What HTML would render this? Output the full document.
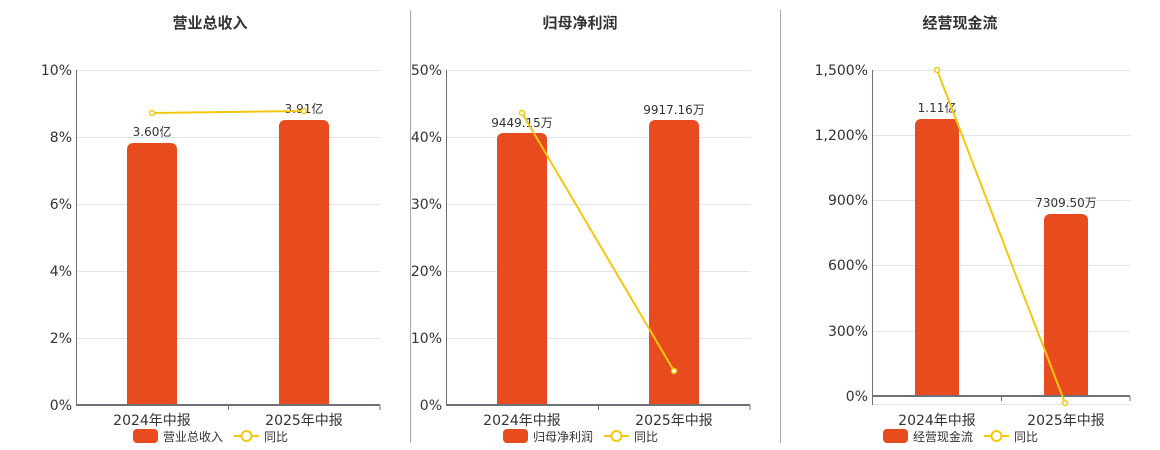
<!DOCTYPE html>
<html><head><meta charset="utf-8"><style>
html,body{margin:0;padding:0;background:#fff;}
svg{display:block;font-family:"DejaVu Sans","Noto Sans CJK SC",sans-serif;}
.t{font-size:15px;font-weight:bold;fill:#333;text-anchor:middle;}
.y{font-size:14px;fill:#333;text-anchor:end;}
.x{font-size:14px;fill:#333;text-anchor:middle;}
.v{font-size:12px;fill:#333;text-anchor:middle;}
.l{font-size:12px;fill:#333;}
</style></head><body>
<svg width="1160" height="450" viewBox="0 0 1160 450">
<line x1="410.5" y1="10" x2="410.5" y2="443" stroke="#aaa"/>
<line x1="780.5" y1="10" x2="780.5" y2="443" stroke="#aaa"/>

<!-- Chart 1 -->
<text class="t" x="210" y="28">营业总收入</text>
<g stroke="#e0e6f1">
<line x1="76" y1="70.5" x2="380" y2="70.5"/><line x1="76" y1="137.5" x2="380" y2="137.5"/>
<line x1="76" y1="204.5" x2="380" y2="204.5"/><line x1="76" y1="271.5" x2="380" y2="271.5"/>
<line x1="76" y1="338.5" x2="380" y2="338.5"/></g>
<g class="y"><text x="72" y="75">10%</text><text x="72" y="142">8%</text><text x="72" y="209">6%</text><text x="72" y="276">4%</text><text x="72" y="343">2%</text><text x="72" y="410">0%</text></g>
<path d="M127 405V149a6 6 0 0 1 6-6h38a6 6 0 0 1 6 6V405Z" fill="#e84c1e"/>
<path d="M279 405V126a6 6 0 0 1 6-6h38a6 6 0 0 1 6 6V405Z" fill="#e84c1e"/>
<line x1="76.5" y1="70" x2="76.5" y2="405" stroke="#6e7079"/>
<line x1="76" y1="405" x2="380" y2="405" stroke="#6e7079" stroke-width="2"/>
<line x1="228.5" y1="405" x2="228.5" y2="410" stroke="#6e7079"/><line x1="380" y1="405" x2="380" y2="410" stroke="#6e7079"/>
<text class="v" x="152" y="136">3.60亿</text><text class="v" x="304" y="113">3.91亿</text>
<polyline points="152,113 304,111" fill="none" stroke="#f2c80f" stroke-width="2"/>
<circle cx="152" cy="113" r="2.5" fill="#fff" stroke="#f2c80f" stroke-width="1.5"/><circle cx="304" cy="111" r="2.5" fill="#fff" stroke="#f2c80f" stroke-width="1.5"/>
<text class="x" x="152" y="425">2024年中报</text><text class="x" x="304" y="425">2025年中报</text>
<rect x="133" y="429" width="25" height="14" rx="4" fill="#e84c1e"/><text class="l" x="163" y="441">营业总收入</text>
<line x1="234" y1="436" x2="259" y2="436" stroke="#f2c80f" stroke-width="2"/><circle cx="246.5" cy="436" r="5" fill="#fff" stroke="#f2c80f" stroke-width="2"/><text class="l" x="264" y="441">同比</text>

<!-- Chart 2 -->
<text class="t" x="580" y="28">归母净利润</text>
<g stroke="#e0e6f1">
<line x1="446" y1="70.5" x2="750" y2="70.5"/><line x1="446" y1="137.5" x2="750" y2="137.5"/>
<line x1="446" y1="204.5" x2="750" y2="204.5"/><line x1="446" y1="271.5" x2="750" y2="271.5"/>
<line x1="446" y1="338.5" x2="750" y2="338.5"/></g>
<g class="y"><text x="442" y="75">50%</text><text x="442" y="142">40%</text><text x="442" y="209">30%</text><text x="442" y="276">20%</text><text x="442" y="343">10%</text><text x="442" y="410">0%</text></g>
<path d="M497 405V139a6 6 0 0 1 6-6h38a6 6 0 0 1 6 6V405Z" fill="#e84c1e"/>
<path d="M649 405V126a6 6 0 0 1 6-6h38a6 6 0 0 1 6 6V405Z" fill="#e84c1e"/>
<line x1="446.5" y1="70" x2="446.5" y2="405" stroke="#6e7079"/>
<line x1="446" y1="405" x2="750" y2="405" stroke="#6e7079" stroke-width="2"/>
<line x1="598.5" y1="405" x2="598.5" y2="410" stroke="#6e7079"/><line x1="750" y1="405" x2="750" y2="410" stroke="#6e7079"/>
<text class="v" x="522" y="127">9449.15万</text><text class="v" x="674" y="114">9917.16万</text>
<polyline points="522,113 674,371" fill="none" stroke="#f2c80f" stroke-width="2"/>
<circle cx="522" cy="113" r="2.5" fill="#fff" stroke="#f2c80f" stroke-width="1.5"/><circle cx="674" cy="371" r="2.5" fill="#fff" stroke="#f2c80f" stroke-width="1.5"/>
<text class="x" x="522" y="425">2024年中报</text><text class="x" x="674" y="425">2025年中报</text>
<rect x="503" y="429" width="25" height="14" rx="4" fill="#e84c1e"/><text class="l" x="533" y="441">归母净利润</text>
<line x1="604" y1="436" x2="629" y2="436" stroke="#f2c80f" stroke-width="2"/><circle cx="616.5" cy="436" r="5" fill="#fff" stroke="#f2c80f" stroke-width="2"/><text class="l" x="634" y="441">同比</text>

<!-- Chart 3 -->
<text class="t" x="960" y="28">经营现金流</text>
<g stroke="#e0e6f1">
<line x1="872" y1="70.5" x2="1130" y2="70.5"/><line x1="872" y1="135.5" x2="1130" y2="135.5"/>
<line x1="872" y1="200.5" x2="1130" y2="200.5"/><line x1="872" y1="265.5" x2="1130" y2="265.5"/>
<line x1="872" y1="331.5" x2="1130" y2="331.5"/><line x1="872" y1="404.5" x2="1130" y2="404.5"/></g>
<g class="y"><text x="868" y="75">1,500%</text><text x="868" y="140">1,200%</text><text x="868" y="205">900%</text><text x="868" y="270">600%</text><text x="868" y="336">300%</text><text x="868" y="401">0%</text></g>
<path d="M915 396V125a6 6 0 0 1 6-6h32a6 6 0 0 1 6 6V396Z" fill="#e84c1e"/>
<path d="M1044 396V220a6 6 0 0 1 6-6h32a6 6 0 0 1 6 6V396Z" fill="#e84c1e"/>
<line x1="872.5" y1="70" x2="872.5" y2="405" stroke="#6e7079"/>
<line x1="872" y1="396" x2="1130" y2="396" stroke="#6e7079" stroke-width="2"/>
<line x1="1001.5" y1="396" x2="1001.5" y2="401" stroke="#6e7079"/><line x1="1130" y1="396" x2="1130" y2="401" stroke="#6e7079"/>
<text class="v" x="937" y="112">1.11亿</text><text class="v" x="1066" y="207">7309.50万</text>
<polyline points="937,70 1065,403" fill="none" stroke="#f2c80f" stroke-width="2"/>
<circle cx="937" cy="70" r="2.5" fill="#fff" stroke="#f2c80f" stroke-width="1.5"/><circle cx="1065" cy="403" r="2.5" fill="#fff" stroke="#f2c80f" stroke-width="1.5"/>
<text class="x" x="937" y="425">2024年中报</text><text class="x" x="1066" y="425">2025年中报</text>
<rect x="883" y="429" width="25" height="14" rx="4" fill="#e84c1e"/><text class="l" x="913" y="441">经营现金流</text>
<line x1="984" y1="436" x2="1009" y2="436" stroke="#f2c80f" stroke-width="2"/><circle cx="996.5" cy="436" r="5" fill="#fff" stroke="#f2c80f" stroke-width="2"/><text class="l" x="1014" y="441">同比</text>
</svg>
</body></html>
